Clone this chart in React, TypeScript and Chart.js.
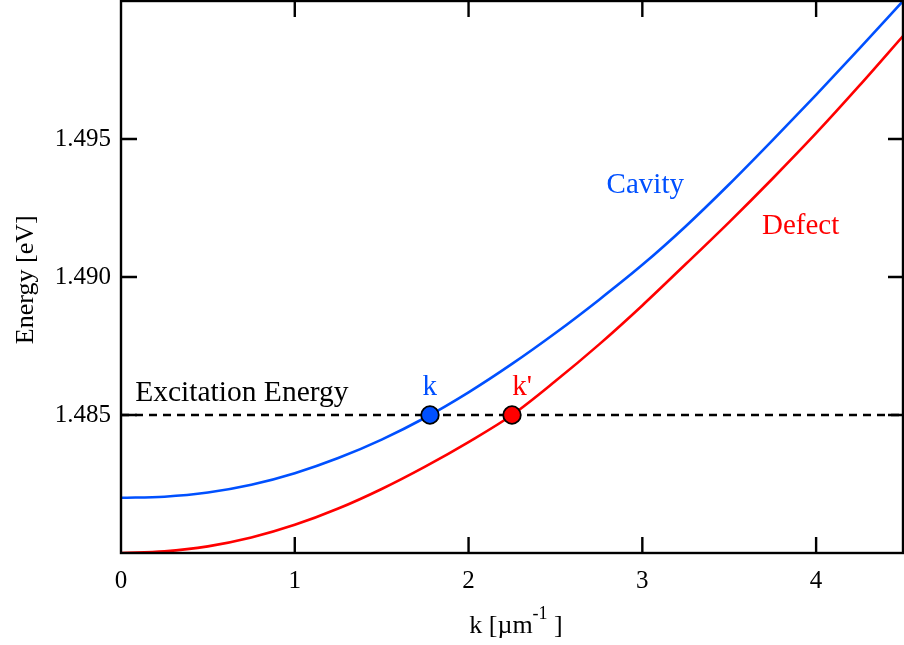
import React, { useEffect, useRef } from 'react';
import { Chart, registerables } from 'chart.js';

Chart.register(...registerables);

// ---- data ----
const kValues = [0, 0.25, 0.5, 0.75, 1.0, 1.25, 1.5, 1.75, 2.0, 2.25, 2.5, 2.75, 3.0, 3.25, 3.5, 3.75, 4.0, 4.25, 4.5];
const cavityEnergy = [1.482, 1.48204, 1.48219, 1.48247, 1.48289, 1.48344, 1.48411, 1.4849, 1.48582, 1.48685, 1.48797, 1.48917, 1.49044, 1.49184, 1.49336, 1.49496, 1.4966, 1.49828, 1.5];
const defectEnergy = [1.48, 1.48006, 1.48024, 1.48056, 1.48102, 1.48161, 1.48232, 1.48313, 1.48402, 1.485, 1.48623, 1.48755, 1.48897, 1.49047, 1.49199, 1.49357, 1.49521, 1.49694, 1.49873];
const excitationLevel = [1.485, 1.485];
const excitationK = [0, 4.5];
const kPointValue = [1.778];
const kPrimePointValue = [2.25];
const xTickValues = [0, 1, 2, 3, 4];
const yTickValues = [1.485, 1.49, 1.495];
const xLimits = [0, 4.5];
const yLimits = [1.48, 1.5];

const BLUE = 'rgb(0,80,255)';
const RED = 'rgb(255,0,0)';
const FONT = '"Liberation Serif", "Times New Roman", serif';

export default function App() {
  const ref = useRef<HTMLCanvasElement | null>(null);

  useEffect(() => {
    const canvas = ref.current;
    if (!canvas) return;

    const overlay = {
      id: 'overlay',
      afterDraw(chart: any) {
        const { ctx, chartArea: a, scales } = chart;
        const xs = scales.x;
        const ys = scales.y;
        ctx.save();
        // frame
        ctx.strokeStyle = '#000';
        ctx.lineWidth = 2.4;
        ctx.strokeRect(a.left, a.top, a.right - a.left, a.bottom - a.top);
        // inward ticks
        ctx.beginPath();
        xTickValues.forEach((v) => {
          if (v <= xLimits[0] || v >= xLimits[1]) return;
          const px = xs.getPixelForValue(v);
          ctx.moveTo(px, a.bottom);
          ctx.lineTo(px, a.bottom - 16);
          ctx.moveTo(px, a.top);
          ctx.lineTo(px, a.top + 16);
        });
        yTickValues.forEach((v) => {
          const py = ys.getPixelForValue(v);
          ctx.moveTo(a.left, py);
          ctx.lineTo(a.left + 16, py);
          ctx.moveTo(a.right, py);
          ctx.lineTo(a.right - 15, py);
        });
        ctx.stroke();

        // annotations
        const text = (s: string, k: number, e: number, color: string, align: CanvasTextAlign, size = 29) => {
          ctx.font = `${size}px ${FONT}`;
          ctx.fillStyle = color;
          ctx.textAlign = align;
          ctx.textBaseline = 'alphabetic';
          ctx.fillText(s, xs.getPixelForValue(k), ys.getPixelForValue(e));
        };
        text('Cavity', 3.017, 1.49306, BLUE, 'center');
        text('Defect', 3.911, 1.49154, RED, 'center');
        text('Excitation Energy', 0.082, 1.4855, '#000', 'left', 29.5);
        text('k', 1.777, 1.48571, BLUE, 'center');
        text("k'", 2.251, 1.48571, RED, 'left');

        // x axis title with superscript
        ctx.fillStyle = '#000';
        ctx.textBaseline = 'alphabetic';
        ctx.textAlign = 'left';
        const mainFont = `26px ${FONT}`;
        const supFont = `18px ${FONT}`;
        ctx.font = mainFont;
        const p1 = 'k [\u00B5m';
        const w1 = ctx.measureText(p1).width;
        ctx.font = supFont;
        const p2 = '-1';
        const w2 = ctx.measureText(p2).width;
        ctx.font = mainFont;
        const p3 = ' ]';
        const w3 = ctx.measureText(p3).width;
        const total = w1 + w2 + w3;
        let x0 = (a.left + a.right) / 2 + 4 - total / 2;
        const base = 633;
        ctx.font = mainFont;
        ctx.fillText(p1, x0, base);
        x0 += w1;
        ctx.font = supFont;
        ctx.fillText(p2, x0, base - 14);
        x0 += w2;
        ctx.font = mainFont;
        ctx.fillText(p3, x0, base);

        // y axis title
        ctx.save();
        ctx.translate(33, ys.getPixelForValue(1.4899));
        ctx.rotate(-Math.PI / 2);
        ctx.textAlign = 'center';
        ctx.font = `26px ${FONT}`;
        ctx.fillText('Energy [eV]', 0, 0);
        ctx.restore();

        ctx.restore();
      },
    };

    const toXY = (ks: number[], es: number[]) => ks.map((k, i) => ({ x: k, y: es[i] }));

    const chart = new Chart(canvas, {
      type: 'line',
      data: {
        datasets: [
          {
            label: 'k',
            data: toXY(kPointValue, [1.485]),
            showLine: false,
            pointRadius: 8.8,
            pointBackgroundColor: BLUE,
            pointBorderColor: '#000',
            pointBorderWidth: 1.8,
            order: 0,
          },
          {
            label: "k'",
            data: toXY(kPrimePointValue, [1.485]),
            showLine: false,
            pointRadius: 8.8,
            pointBackgroundColor: RED,
            pointBorderColor: '#000',
            pointBorderWidth: 1.8,
            order: 0,
          },
          {
            label: 'Cavity',
            data: toXY(kValues, cavityEnergy),
            borderColor: BLUE,
            borderWidth: 2.6,
            pointRadius: 0,
            cubicInterpolationMode: 'monotone',
            fill: false,
            order: 1,
          },
          {
            label: 'Defect',
            data: toXY(kValues, defectEnergy),
            borderColor: RED,
            borderWidth: 2.6,
            pointRadius: 0,
            cubicInterpolationMode: 'monotone',
            fill: false,
            order: 1,
          },
          {
            label: 'Excitation Energy',
            data: toXY(excitationK, excitationLevel),
            borderColor: '#000',
            borderWidth: 2.3,
            borderDash: [8, 6],
            pointRadius: 0,
            fill: false,
            order: 2,
          },
        ],
      },
      options: {
        responsive: false,
        animation: false,
        devicePixelRatio: 1,
        layout: { autoPadding: false, padding: { top: 1, right: 1, left: 0, bottom: 0 } },
        plugins: { legend: { display: false }, tooltip: { enabled: false } },
        scales: {
          x: {
            type: 'linear',
            min: xLimits[0],
            max: xLimits[1],
            grid: { display: false, drawTicks: false },
            border: { display: false },
            afterBuildTicks: (axis: any) => {
              axis.ticks = xTickValues.map((v) => ({ value: v }));
            },
            afterFit: (axis: any) => {
              axis.height = 92;
              axis.paddingLeft = 0;
              axis.paddingRight = 0;
            },
            ticks: {
              padding: 13,
              color: '#000',
              font: { family: FONT, size: 25 },
              maxRotation: 0,
              autoSkip: false,
              callback: (v: any) => String(v),
            },
          },
          y: {
            type: 'linear',
            min: yLimits[0],
            max: yLimits[1],
            grid: { display: false, drawTicks: false },
            border: { display: false },
            afterBuildTicks: (axis: any) => {
              axis.ticks = yTickValues.map((v) => ({ value: v }));
            },
            afterFit: (axis: any) => {
              axis.width = 121;
              axis.paddingTop = 0;
              axis.paddingBottom = 0;
            },
            ticks: {
              padding: 10,
              color: '#000',
              font: { family: FONT, size: 25 },
              autoSkip: false,
              callback: (v: any) => Number(v).toFixed(3),
            },
          },
        },
      },
      plugins: [overlay],
    } as any);

    return () => chart.destroy();
  }, []);

  return (
    <div style={{ position: 'absolute', left: 0, top: 0, width: 904, height: 645, background: '#fff' }}>
      <canvas ref={ref} width={904} height={645} style={{ width: 904, height: 645, display: 'block' }} />
    </div>
  );
}
